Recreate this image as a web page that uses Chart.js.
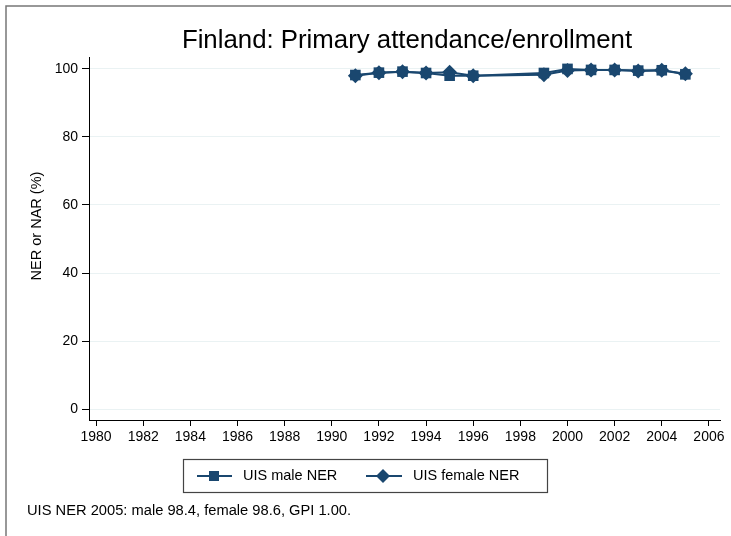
<!DOCTYPE html>
<html>
<head>
<meta charset="utf-8">
<script src="https://cdn.jsdelivr.net/npm/chart.js@4.4.1/dist/chart.umd.min.js"></script>
<style>
html,body{margin:0;padding:0;background:#fff;}
#wrap{position:relative;width:731px;height:536px;}
</style>
</head>
<body>
<div id="wrap"><canvas id="c" width="731" height="536"></canvas></div>
<script>
const titleText = "Finland: Primary attendance/enrollment";
const yAxisTitle = "NER or NAR (%)";
const noteText = "UIS NER 2005: male 98.4, female 98.6, GPI 1.00.";
const years = [1991, 1992, 1993, 1994, 1995, 1996, 1999, 2000, 2001, 2002, 2003, 2004, 2005];
const maleNER = [98.2, 98.9, 99.2, 98.8, 98.0, 98.0, 98.8, 100.0, 99.7, 99.7, 99.5, 99.6, 98.4];
const femaleNER = [98.0, 98.9, 99.2, 98.8, 99.0, 98.0, 98.3, 99.5, 99.7, 99.7, 99.4, 99.6, 98.6];
const seriesNames = ["UIS male NER", "UIS female NER"];
const xTicks = [1980, 1982, 1984, 1986, 1988, 1990, 1992, 1994, 1996, 1998, 2000, 2002, 2004, 2006];
const yTicks = [0, 20, 40, 60, 80, 100];

const navy = '#1a476f';
const FONT = 'Liberation Sans, Arial, Helvetica, sans-serif';

const decor = {
  id: 'decor',
  afterDraw(chart) {
    const ctx = chart.ctx;
    ctx.save();
    // outer frame (top and left)
    ctx.strokeStyle = '#777';
    ctx.lineWidth = 1.5;
    ctx.beginPath();
    ctx.moveTo(6, 536); ctx.lineTo(6, 6); ctx.lineTo(731, 6);
    ctx.stroke();
    // title
    ctx.fillStyle = '#000';
    ctx.font = '25.8px ' + FONT;
    ctx.textAlign = 'center';
    ctx.textBaseline = 'alphabetic';
    ctx.fillText(titleText, 407, 48);
    // y axis title
    ctx.save();
    ctx.translate(37, 226);
    ctx.rotate(-Math.PI / 2);
    ctx.textBaseline = 'middle';
    ctx.font = '14.5px ' + FONT;
    ctx.fillText(yAxisTitle, 0, 0);
    ctx.restore();
    // legend box
    const bx = 183, by = 459, bw = 364, bh = 33;
    ctx.strokeStyle = '#444';
    ctx.lineWidth = 1.2;
    ctx.strokeRect(bx + 0.5, by + 0.5, bw, bh);
    const cy = by + bh / 2 + 0.5;
    ctx.strokeStyle = navy; ctx.fillStyle = navy; ctx.lineWidth = 2;
    ctx.beginPath(); ctx.moveTo(197, cy); ctx.lineTo(232, cy); ctx.stroke();
    ctx.fillRect(214 - 5, cy - 5, 10, 10);
    ctx.beginPath(); ctx.moveTo(366, cy); ctx.lineTo(402, cy); ctx.stroke();
    ctx.beginPath();
    ctx.moveTo(383 - 7, cy); ctx.lineTo(383, cy - 7); ctx.lineTo(383 + 7, cy); ctx.lineTo(383, cy + 7); ctx.closePath();
    ctx.fill();
    ctx.fillStyle = '#000';
    ctx.font = '14.5px ' + FONT;
    ctx.textAlign = 'left';
    ctx.textBaseline = 'middle';
    ctx.fillText(seriesNames[0], 243, cy);
    ctx.fillText(seriesNames[1], 413, cy);
    // note
    ctx.font = '14.7px ' + FONT;
    ctx.fillText(noteText, 27, 511);
    ctx.restore();
  }
};

new Chart(document.getElementById('c'), {
  type: 'line',
  data: {
    datasets: [
      {
        label: seriesNames[0],
        data: years.map((y, i) => ({x: y, y: maleNER[i]})),
        borderColor: navy, backgroundColor: navy, borderWidth: 2,
        pointStyle: 'rect', pointRadius: 7.5, pointHoverRadius: 7.5, pointBorderWidth: 0,
        tension: 0
      },
      {
        label: seriesNames[1],
        data: years.map((y, i) => ({x: y, y: femaleNER[i]})),
        borderColor: navy, backgroundColor: navy, borderWidth: 2,
        pointStyle: 'rectRot', pointRadius: 7.5, pointHoverRadius: 7.5, pointBorderWidth: 0,
        tension: 0
      }
    ]
  },
  options: {
    responsive: false,
    animation: false,
    events: [],
    layout: { padding: { left: 0, right: 11, top: 57, bottom: 0 } },
    plugins: { legend: { display: false }, title: { display: false }, tooltip: { enabled: false } },
    scales: {
      x: {
        type: 'linear',
        min: 1979.7, max: 2006.47,
        afterBuildTicks: (s) => { s.ticks = xTicks.map(v => ({value: v})); },
        afterFit: (s) => { s.height = 116; },
        ticks: { color: '#000', font: { size: 14, family: FONT }, padding: 3, maxRotation: 0, autoSkip: false,
                 callback: (v) => String(v) },
        grid: { drawOnChartArea: false, drawTicks: true, tickLength: 6, tickColor: '#000', tickWidth: 1 },
        border: { color: '#000', width: 1 }
      },
      y: {
        type: 'linear',
        min: -3.2, max: 103.5,
        afterBuildTicks: (s) => { s.ticks = yTicks.map(v => ({value: v})); },
        afterFit: (s) => { s.width = 89; },
        ticks: { color: '#000', font: { size: 14, family: FONT }, padding: 4, autoSkip: false },
        grid: { color: '#eaf2f3', lineWidth: 1, drawTicks: true, tickLength: 7, tickColor: '#000', tickWidth: 1 },
        border: { color: '#000', width: 1 }
      }
    }
  },
  plugins: [decor]
});
</script>
</body>
</html>
